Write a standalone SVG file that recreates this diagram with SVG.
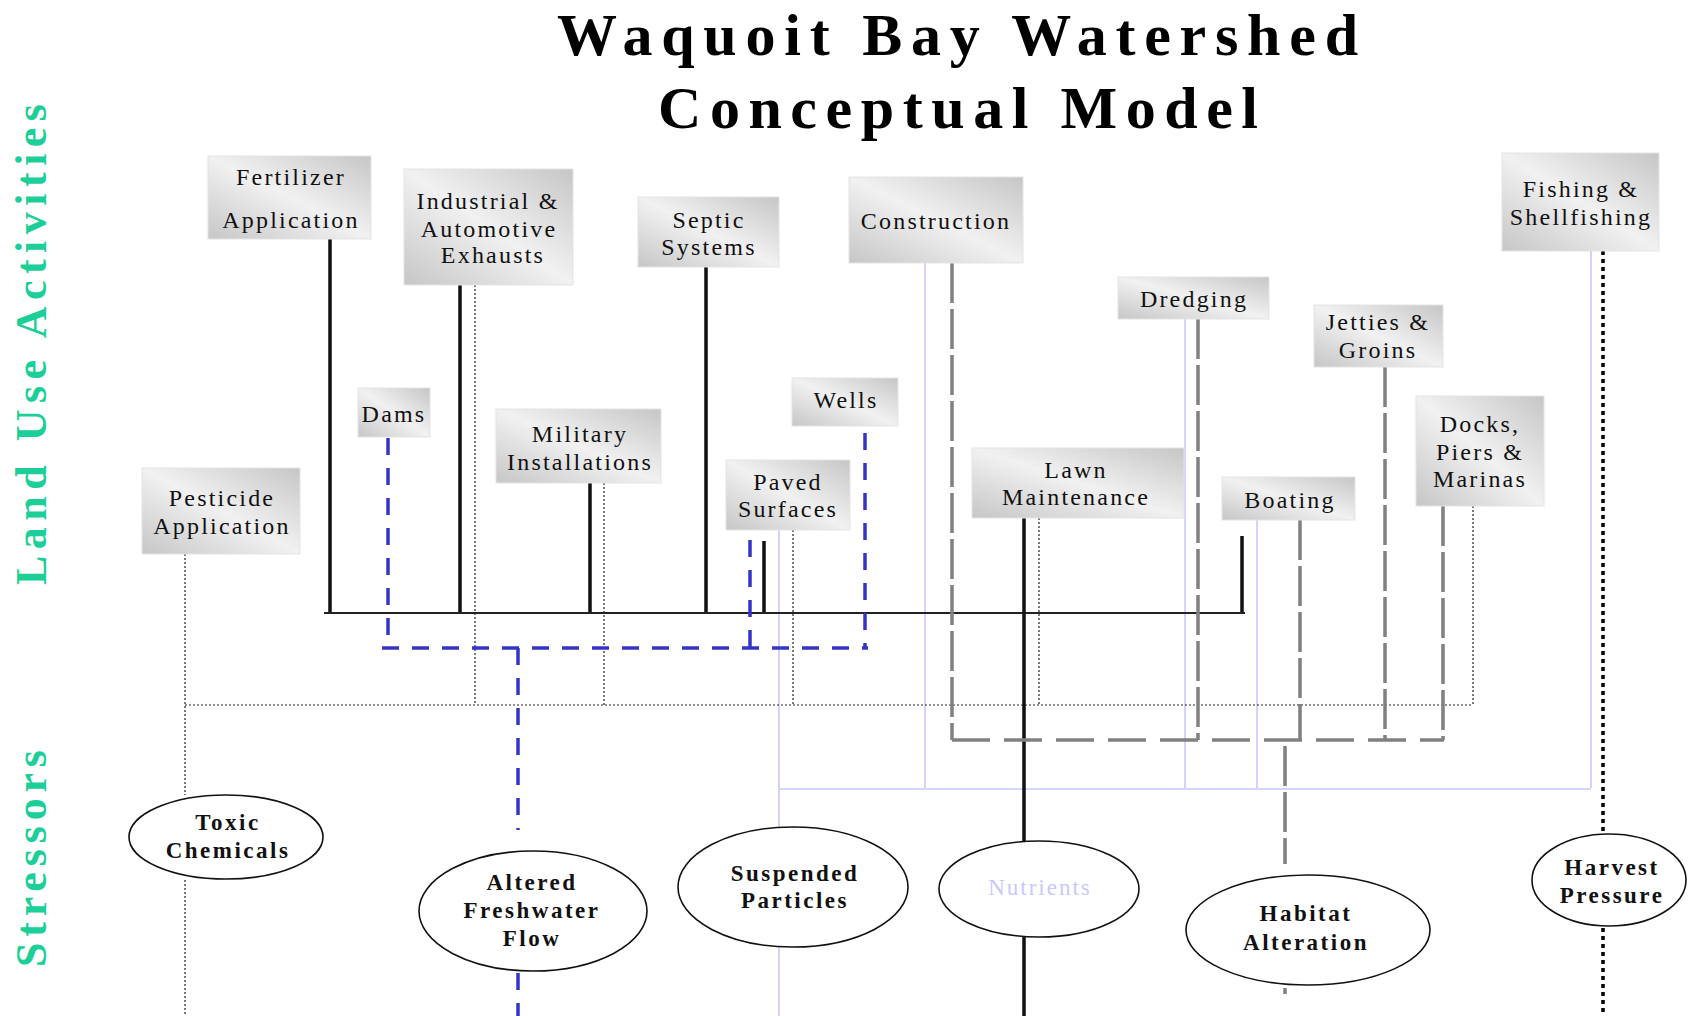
<svg xmlns="http://www.w3.org/2000/svg" width="1688" height="1016" viewBox="0 0 1688 1016">
<defs>
<linearGradient id="boxg" x1="0" y1="1" x2="1" y2="0">
<stop offset="0" stop-color="#c6c6c6"/>
<stop offset="0.5" stop-color="#f1f1f1"/>
<stop offset="1" stop-color="#c6c6c6"/>
</linearGradient>
</defs>
<style>
.box{fill:url(#boxg);stroke:#e4e4e4;stroke-width:1}
.bt{font-family:"Liberation Serif","Times New Roman",serif;font-size:24px;letter-spacing:2.2px;fill:#111;text-anchor:middle}
.el{fill:#fff;stroke:#111;stroke-width:1.6}
.et{font-family:"Liberation Serif","Times New Roman",serif;font-size:23px;font-weight:bold;letter-spacing:2.5px;fill:#111;text-anchor:middle}
.title{font-family:"Liberation Serif","Times New Roman",serif;font-size:60px;font-weight:bold;fill:#000}
.side{font-family:"Liberation Serif","Times New Roman",serif;font-size:44px;font-weight:bold;fill:#1ccf98}
.blk{stroke:#111;stroke-width:3.5;fill:none}
.hblk{stroke:#222;stroke-width:2;fill:none}
.blue{stroke:#3434c8;stroke-width:3.5;stroke-dasharray:17 13;fill:none}
.dot{stroke:#222;stroke-width:1.2;stroke-dasharray:2 2;fill:none}
.grayv{stroke:#808080;stroke-width:3.5;stroke-dasharray:40 6;fill:none}
.grayh{stroke:#808080;stroke-width:3.5;stroke-dasharray:38 14;fill:none}
.lav{stroke:#c8c8ff;stroke-width:1.6;fill:none}
.tdot{stroke:#000;stroke-width:3.5;stroke-dasharray:4 4;fill:none}
</style>
<rect width="1688" height="1016" fill="#fff"/>
<g id="title">
<text class="title" x="557" y="55" textLength="801" lengthAdjust="spacing">Waquoit Bay Watershed</text>
<text class="title" x="658" y="128" textLength="600" lengthAdjust="spacing">Conceptual Model</text>
</g>
<g id="side-labels">
<text class="side" transform="translate(46,585) rotate(-90)" textLength="481" lengthAdjust="spacing">Land Use Activities</text>
<text class="side" transform="translate(46,967) rotate(-90)" textLength="217" lengthAdjust="spacing">Stressors</text>
</g>
<g id="connectors">
<!-- lavender -->
<path class="lav" d="M925 263V788M1185 319V788M1257 520V788M1591 251V788M779 789H1591M779 530V827M779 947V1016"/>
<!-- thin dotted -->
<path class="dot" d="M185 554V795M185 880V1016M185 705H1473M475 265V705M604 483V705M793 530V705M1039 518V705M1473 506V705"/>
<!-- black solid -->
<path class="hblk" d="M324 613H1245"/>
<path class="blk" d="M330 239V612M460 285V612M590 483V612M706 267V612M764 541V612M1242 536V612"/>
<path class="blk" stroke-width="4" d="M1024 518V842M1024 936V1016"/>
<!-- blue dashed -->
<path class="blue" d="M388 438V648M382 648H868M750 540V648M518 648V830M518 973V1016"/>
<path class="blue" stroke-width="5" stroke-dasharray="16 11" d="M865 433V648"/>
<!-- gray dashed -->
<path class="grayv" d="M952 263V740M1198 319V740M1300 520V740M1385 367V740M1443 506V740M1285 746V864M1285 988V994"/>
<path class="grayh" d="M952 740H1444"/>
<!-- thick dotted -->
<path class="tdot" d="M1603 251V832M1603 928V1016"/>
</g>
<g id="n-fertilizer"><rect class="box" x="208" y="156" width="163" height="83"/><text class="bt" x="291" y="185">Fertilizer</text><text class="bt" x="291" y="228">Application</text></g>
<g id="n-industrial"><rect class="box" x="404" y="169" width="169" height="116"/><text class="bt" x="488" y="209">Industrial &amp;</text><text class="bt" x="489" y="237">Automotive</text><text class="bt" x="493" y="263">Exhausts</text></g>
<g id="n-septic"><rect class="box" x="638" y="197" width="141" height="70"/><text class="bt" x="709" y="228">Septic</text><text class="bt" x="709" y="255">Systems</text></g>
<g id="n-dams"><rect class="box" x="358" y="388" width="72" height="49"/><text class="bt" x="394" y="422">Dams</text></g>
<g id="n-military"><rect class="box" x="496" y="409" width="165" height="74"/><text class="bt" x="580" y="442">Military</text><text class="bt" x="580" y="470">Installations</text></g>
<g id="n-pesticide"><rect class="box" x="142" y="468" width="158" height="86"/><text class="bt" x="222" y="506">Pesticide</text><text class="bt" x="222" y="534">Application</text></g>
<g id="n-paved"><rect class="box" x="726" y="460" width="124" height="70"/><text class="bt" x="788" y="490">Paved</text><text class="bt" x="788" y="517">Surfaces</text></g>
<g id="n-wells"><rect class="box" x="792" y="378" width="106" height="48"/><text class="bt" x="846" y="408">Wells</text></g>
<g id="n-construction"><rect class="box" x="849" y="177" width="174" height="86"/><text class="bt" x="936" y="229">Construction</text></g>
<g id="n-dredging"><rect class="box" x="1118" y="277" width="151" height="42"/><text class="bt" x="1194" y="307">Dredging</text></g>
<g id="n-jetties"><rect class="box" x="1314" y="305" width="129" height="62"/><text class="bt" x="1378" y="330">Jetties &amp;</text><text class="bt" x="1378" y="358">Groins</text></g>
<g id="n-docks"><rect class="box" x="1416" y="396" width="128" height="110"/><text class="bt" x="1480" y="432">Docks,</text><text class="bt" x="1480" y="460">Piers &amp;</text><text class="bt" x="1480" y="487">Marinas</text></g>
<g id="n-fishing"><rect class="box" x="1502" y="153" width="157" height="98"/><text class="bt" x="1581" y="197">Fishing &amp;</text><text class="bt" x="1581" y="225">Shellfishing</text></g>
<g id="n-lawn"><rect class="box" x="972" y="448" width="212" height="70"/><text class="bt" x="1076" y="478">Lawn</text><text class="bt" x="1076" y="505">Maintenance</text></g>
<g id="n-boating"><rect class="box" x="1222" y="477" width="133" height="43"/><text class="bt" x="1290" y="508">Boating</text></g>
<g id="s-toxic"><ellipse class="el" cx="226" cy="837" rx="97" ry="42"/><text class="et" x="228" y="830">Toxic</text><text class="et" x="228" y="858">Chemicals</text></g>
<g id="s-altered"><ellipse class="el" cx="533" cy="911" rx="114" ry="60"/><text class="et" x="532" y="890">Altered</text><text class="et" x="532" y="918">Freshwater</text><text class="et" x="532" y="946">Flow</text></g>
<g id="s-suspended"><ellipse class="el" cx="793" cy="887" rx="115" ry="60"/><text class="et" x="795" y="881">Suspended</text><text class="et" x="795" y="908">Particles</text></g>
<g id="s-nutrients"><ellipse class="el" cx="1039" cy="889" rx="100" ry="48"/><text class="et" x="1040" y="895" style="fill:#c8c8ff;font-weight:normal;letter-spacing:2px">Nutrients</text></g>
<g id="s-habitat"><ellipse class="el" cx="1308" cy="930" rx="122" ry="55"/><text class="et" x="1306" y="921">Habitat</text><text class="et" x="1306" y="950">Alteration</text></g>
<g id="s-harvest"><ellipse class="el" cx="1609" cy="880" rx="77" ry="46"/><text class="et" x="1612" y="875">Harvest</text><text class="et" x="1612" y="903">Pressure</text></g>
</svg>
